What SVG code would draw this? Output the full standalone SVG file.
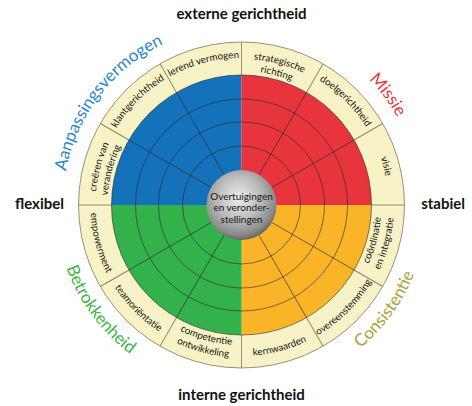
<svg xmlns="http://www.w3.org/2000/svg" width="472" height="406" viewBox="0 0 472 406">
<style>
text{font-family:Lato,"Open Sans","Noto Sans",sans-serif;}
.ax{font-weight:bold;font-size:15px;fill:#111;}
.rl{font-size:9.8px;fill:#141414;}
.big{font-size:17px;}
.sep{stroke:#8c8468;stroke-width:0.9;}
.grid{fill:none;stroke:#2a2a2a;stroke-width:0.8;stroke-opacity:0.75;}
.rad{stroke:#2a2a2a;stroke-width:0.8;stroke-opacity:0.75;}
.ctr{font-size:10px;fill:#141414;text-anchor:middle;}
</style>
<defs>
<radialGradient id="sph" cx="46%" cy="40%" r="62%">
<stop offset="0" stop-color="#eeeeee"/>
<stop offset="0.5" stop-color="#bcbcbc"/>
<stop offset="0.85" stop-color="#8a8a8a"/>
<stop offset="1" stop-color="#5a5a5a"/>
</radialGradient>
<path id="t147" d="M94.5,205 A147,147 0 0 1 388.5,205"/>
<path id="t146" d="M95.5,205 A146,146 0 0 1 387.5,205"/>
<path id="t134" d="M107.5,205 A134,134 0 0 1 375.5,205"/>
<path id="t179" d="M62.5,205 A179,179 0 0 1 420.5,205"/>
<path id="b151" d="M90.5,205 A151,151 0 0 0 392.5,205"/>
<path id="b140" d="M101.5,205 A140,140 0 0 0 381.5,205"/>
<path id="b152" d="M89,205 A152.5,152.5 0 0 0 394,205"/>
<path id="b186" d="M55.5,205 A186,186 0 0 0 427.5,205"/>
<line id="sepl" x1="241.5" y1="75" x2="241.5" y2="42"/>
<line id="radl" x1="241.5" y1="170" x2="241.5" y2="75"/>
</defs>

<g id="ring">
<circle cx="241.5" cy="205" r="163" fill="#f7f3c6" stroke="#8c8468" stroke-width="0.9"/>
</g>

<g id="quadrants">
<path id="q-blue" d="M241.5,205 L111.5,205 A130,130 0 0 1 241.5,75 Z" fill="#1372ba"/>
<path id="q-red" d="M241.5,205 L241.5,75 A130,130 0 0 1 371.5,205 Z" fill="#e8343c"/>
<path id="q-yellow" d="M241.5,205 L371.5,205 A130,130 0 0 1 241.5,335 Z" fill="#f9b428"/>
<path id="q-green" d="M241.5,205 L241.5,335 A130,130 0 0 1 111.5,205 Z" fill="#33b14b"/>
</g>

<g id="connectors">
<g class="sep">
<use href="#sepl"/>
<use href="#sepl" transform="rotate(30 241.5 205)"/>
<use href="#sepl" transform="rotate(60 241.5 205)"/>
<use href="#sepl" transform="rotate(90 241.5 205)"/>
<use href="#sepl" transform="rotate(120 241.5 205)"/>
<use href="#sepl" transform="rotate(150 241.5 205)"/>
<use href="#sepl" transform="rotate(180 241.5 205)"/>
<use href="#sepl" transform="rotate(210 241.5 205)"/>
<use href="#sepl" transform="rotate(240 241.5 205)"/>
<use href="#sepl" transform="rotate(270 241.5 205)"/>
<use href="#sepl" transform="rotate(300 241.5 205)"/>
<use href="#sepl" transform="rotate(330 241.5 205)"/>
</g>
<g class="rad">
<use href="#radl" transform="rotate(30 241.5 205)"/>
<use href="#radl" transform="rotate(60 241.5 205)"/>
<use href="#radl" transform="rotate(120 241.5 205)"/>
<use href="#radl" transform="rotate(150 241.5 205)"/>
<use href="#radl" transform="rotate(210 241.5 205)"/>
<use href="#radl" transform="rotate(240 241.5 205)"/>
<use href="#radl" transform="rotate(300 241.5 205)"/>
<use href="#radl" transform="rotate(330 241.5 205)"/>
</g>
<circle class="grid" cx="241.5" cy="205" r="59"/>
<circle class="grid" cx="241.5" cy="205" r="83"/>
<circle class="grid" cx="241.5" cy="205" r="106"/>
<circle class="grid" cx="241.5" cy="205" r="130"/>
</g>

<g id="center">
<circle cx="241.5" cy="205" r="35" fill="url(#sph)"/>
<text class="ctr" x="241.5" y="199.5">Overtuigingen</text>
<text class="ctr" x="241.5" y="211">en veronder-</text>
<text class="ctr" x="241.5" y="222.5">stellingen</text>
</g>

<g id="ring-labels" class="rl" text-anchor="middle">
<g id="lbl-lerend"><text class="rl" transform="rotate(-15 241.5 205)"><textPath href="#t147" startOffset="50%" text-anchor="middle">lerend vermogen</textPath></text></g>
<g id="lbl-strategische"><text class="rl" transform="rotate(15 241.5 205)"><textPath href="#t146" startOffset="50%" text-anchor="middle">strategische</textPath></text>
<text class="rl" transform="rotate(15 241.5 205)"><textPath href="#t134" startOffset="50%" text-anchor="middle">richting</textPath></text></g>
<g id="lbl-doel"><text class="rl" transform="rotate(45 241.5 205)"><textPath href="#t147" startOffset="50%" text-anchor="middle">doelgerichtheid</textPath></text></g>
<g id="lbl-visie"><text class="rl" transform="rotate(75 241.5 205)"><textPath href="#t147" startOffset="50%" text-anchor="middle">visie</textPath></text></g>
<g id="lbl-klant"><text class="rl" transform="rotate(-45 241.5 205)"><textPath href="#t147" startOffset="50%" text-anchor="middle">klantgerichtheid</textPath></text></g>
<g id="lbl-creeren"><text class="rl" transform="rotate(-75 241.5 205)"><textPath href="#t146" startOffset="50%" text-anchor="middle">creëren van</textPath></text>
<text class="rl" transform="rotate(-75 241.5 205)"><textPath href="#t134" startOffset="50%" text-anchor="middle">verandering</textPath></text></g>
<g id="lbl-coordinatie"><text class="rl" transform="rotate(-75 241.5 205)"><textPath href="#b140" startOffset="50%" text-anchor="middle">coördinatie</textPath></text>
<text class="rl" transform="rotate(-75 241.5 205)"><textPath href="#b152" startOffset="50%" text-anchor="middle">en integratie</textPath></text></g>
<g id="lbl-overeen"><text class="rl" transform="rotate(-45 241.5 205)"><textPath href="#b151" startOffset="50%" text-anchor="middle">overeenstemming</textPath></text></g>
<g id="lbl-kern"><text class="rl" transform="rotate(-15 241.5 205)"><textPath href="#b151" startOffset="50%" text-anchor="middle">kernwaarden</textPath></text></g>
<g id="lbl-competentie"><text class="rl" transform="rotate(15 241.5 205)"><textPath href="#b140" startOffset="50%" text-anchor="middle">competentie</textPath></text>
<text class="rl" transform="rotate(15 241.5 205)"><textPath href="#b152" startOffset="50%" text-anchor="middle">ontwikkeling</textPath></text></g>
<g id="lbl-team"><text class="rl" transform="rotate(45 241.5 205)"><textPath href="#b151" startOffset="50%" text-anchor="middle">teamoriëntatie</textPath></text></g>
<g id="lbl-empower"><text class="rl" transform="rotate(75 241.5 205)"><textPath href="#b151" startOffset="50%" text-anchor="middle">empowerment</textPath></text></g>
</g>

<g id="quadrant-labels">
<text class="big" fill="#2c86cc" transform="rotate(-52.5 241.5 205)"><textPath href="#t179" startOffset="50%" text-anchor="middle">Aanpassingsvermogen</textPath></text>
<text class="big" fill="#e8343c" transform="rotate(53 241.5 205)"><textPath href="#t179" startOffset="50%" text-anchor="middle">Missie</textPath></text>
<text class="big" fill="#aea23a" transform="rotate(-54 241.5 205)"><textPath href="#b186" startOffset="50%" text-anchor="middle">Consistentie</textPath></text>
<text class="big" fill="#3db54a" transform="rotate(53.5 241.5 205)"><textPath href="#b186" startOffset="50%" text-anchor="middle">Betrokkenheid</textPath></text>
</g>

<g id="axis-labels">
<text class="ax" x="241.5" y="19" text-anchor="middle">externe gerichtheid</text>
<text class="ax" x="241.5" y="400" text-anchor="middle">interne gerichtheid</text>
<text class="ax" x="15" y="208.5">flexibel</text>
<text class="ax" x="465" y="208.5" text-anchor="end">stabiel</text>
</g>
</svg>
